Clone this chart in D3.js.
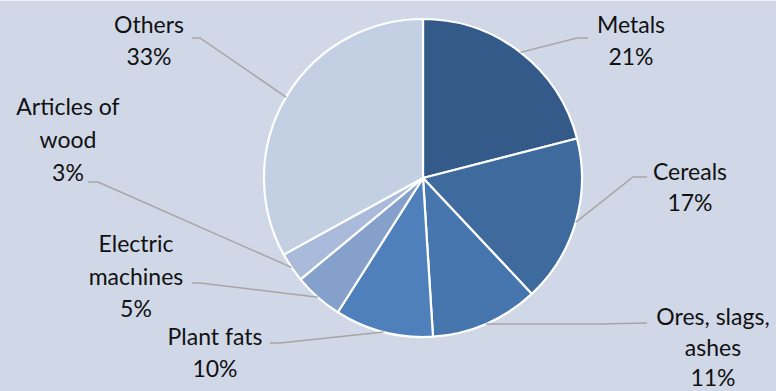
<!DOCTYPE html>
<html>
<head>
<meta charset="utf-8">
<script src="https://cdn.jsdelivr.net/npm/d3@7/dist/d3.min.js"></script>
<style>
  html, body { margin: 0; padding: 0; background: #d0d8e7; }
  svg { display: block; }
  text { font-family: Lato, "Open Sans", sans-serif; fill: #111; }
</style>
</head>
<body>
<svg id="chart" width="776" height="391"></svg>
<script>
// Trade structure by product group (share, %)
const categories = ["Metals", "Cereals", "Ores, slags, ashes", "Plant fats", "Electric machines", "Articles of wood", "Others"];
const shares = [21, 17, 11, 10, 5, 3, 33];
const colors = ["#345a89", "#3e6a9e", "#4776ae", "#4f80bc", "#84a0cb", "#a9bada", "#c3cfe2"];

// Label text lines for each slice (name broken as it wraps, then the percentage)
const labelLines = [
  ["Metals"], ["Cereals"], ["Ores, slags,", "ashes"], ["Plant fats"],
  ["Electric", "machines"], ["Articles of", "wood"], ["Others"]
];

// Label layout: text centre x, first baseline y, line step, leader elbow and leader end
const labelLayout = [
  { x: 631, y: 33,  step: 32,   elbow: [577, 38],  end: [588, 38] },
  { x: 690, y: 180, step: 31,   elbow: [633, 177], end: [647, 177] },
  { x: 713, y: 325, step: 30.5, elbow: [600, 324], end: [647, 323] },
  { x: 215, y: 345, step: 32,   elbow: [280, 343], end: [270, 343] },
  { x: 136, y: 252, step: 32.5, elbow: [200, 283], end: [192, 283] },
  { x: 68,  y: 115, step: 33,   elbow: [98, 182],  end: [88, 182] },
  { x: 149, y: 33,  step: 32,   elbow: [200, 38],  end: [192, 38] }
];

const W = 776, H = 391;
const cx = 423, cy = 178, R = 159;

const svg = d3.select("#chart");
svg.append("rect").attr("width", W).attr("height", H).attr("fill", "#d0d8e7");
svg.append("line").attr("x1", 0).attr("x2", W).attr("y1", 0.5).attr("y2", 0.5)
  .attr("stroke", "#eef1f6").attr("stroke-width", 1);

const data = categories.map((c, i) => ({ name: c, value: shares[i], color: colors[i], i }));

const pie = d3.pie().value(d => d.value).sort(null);
const arc = d3.arc().innerRadius(0).outerRadius(R);
const arcs = pie(data);

const g = svg.append("g").attr("transform", `translate(${cx},${cy})`);

g.selectAll("path.slice")
  .data(arcs)
  .join("path")
  .attr("class", "slice")
  .attr("d", arc)
  .attr("fill", d => d.data.color)
  .attr("stroke", "#ffffff")
  .attr("stroke-width", 2.2)
  .attr("stroke-linejoin", "round");

// Leader lines from slice edge (mid angle) to label
const leaders = svg.append("g");
arcs.forEach((a, i) => {
  const mid = (a.startAngle + a.endAngle) / 2;
  const sx = cx + R * Math.sin(mid);
  const sy = cy - R * Math.cos(mid);
  const L = labelLayout[i];
  leaders.append("path")
    .attr("d", d3.line()([[sx, sy], L.elbow, L.end]))
    .attr("fill", "none")
    .attr("stroke", "#a5a5a5")
    .attr("stroke-width", 1.5);
});

// Labels
const labels = svg.append("g");
arcs.forEach((a, i) => {
  const L = labelLayout[i];
  const lines = labelLines[i].concat([a.data.value + "%"]);
  const t = labels.append("text")
    .attr("text-anchor", "middle")
    .attr("font-size", 23);
  lines.forEach((s, k) => {
    t.append("tspan").attr("x", L.x).attr("y", L.y + k * L.step).text(s);
  });
});
</script>
</body>
</html>
